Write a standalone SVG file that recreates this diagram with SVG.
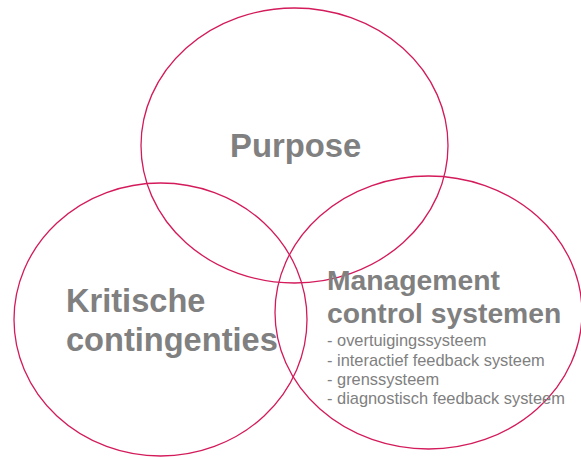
<svg xmlns="http://www.w3.org/2000/svg" width="581" height="457" viewBox="0 0 581 457">
  <style>
    .ring { fill: none; stroke: #d31a5b; stroke-width: 1.3; }
    .title { font-family: "Liberation Sans", Arial, sans-serif; font-weight: bold; fill: #808080; }
    .item { font-family: "Liberation Sans", Arial, sans-serif; font-size: 16.4px; fill: #808080; }
  </style>
  <rect width="581" height="457" fill="#ffffff"/>
  <g id="purpose">
    <ellipse class="ring" cx="294.5" cy="145.5" rx="153.5" ry="137.5"/>
  </g>
  <g id="kritische-contingenties">
    <ellipse class="ring" cx="160.5" cy="319.5" rx="146.5" ry="136.5"/>
  </g>
  <g id="management-control-systemen">
    <ellipse class="ring" cx="428.5" cy="312.5" rx="153.5" ry="136.5"/>
  </g>
  <g id="labels">
    <text class="title" x="230" y="157" font-size="32.8">Purpose</text>
    <text class="title" x="66" y="312" font-size="32.6">Kritische</text>
    <text class="title" x="66" y="351" font-size="32.6">contingenties</text>
    <text class="title" x="327" y="290" font-size="28.3">Management</text>
    <text class="title" x="327" y="323" font-size="28.3">control systemen</text>
    <text class="item" x="327" y="346">- overtuigingssysteem</text>
    <text class="item" x="327" y="366">- interactief feedback systeem</text>
    <text class="item" x="327" y="385">- grenssysteem</text>
    <text class="item" x="327" y="404">- diagnostisch feedback systeem</text>
  </g>
</svg>
